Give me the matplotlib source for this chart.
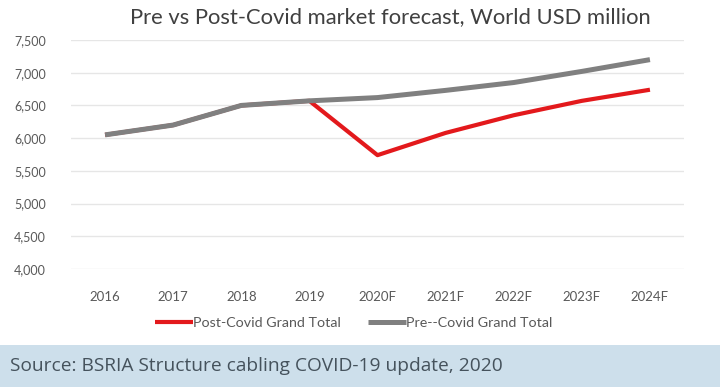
import matplotlib
matplotlib.use("Agg")
import matplotlib.pyplot as plt
from matplotlib.patches import Rectangle

categories = ["2016", "2017", "2018", "2019", "2020F", "2021F", "2022F", "2023F", "2024F"]
post_covid = [6050, 6200, 6500, 6570, 5740, 6080, 6350, 6570, 6740]
pre_covid = [6050, 6200, 6500, 6570, 6620, 6730, 6850, 7020, 7200]
yticks = [4000, 4500, 5000, 5500, 6000, 6500, 7000, 7500]

plt.rcParams['font.family'] = ['Lato', 'DejaVu Sans']

W, H = 720, 387
fig = plt.figure(figsize=(7.2, 3.87), dpi=100)
fig.patch.set_facecolor("white")

# bottom banner
fig.patches.append(Rectangle((0, 0), 1, 42 / H, transform=fig.transFigure,
                             facecolor="#cddfeb", edgecolor="none", zorder=0))
fig.text(10 / W, 21 / H, "Source: BSRIA Structure cabling COVID-19 update, 2020",
         fontsize=13.8, color="#45525c", va="center", ha="left", family=['Open Sans', 'DejaVu Sans'])

ax = fig.add_axes([71 / W, 1 - 269 / H, (684 - 71) / W, (269 - 40) / H])
x = list(range(len(categories)))
ax.plot(x, post_covid, color="#e3191c", lw=3, label="Post-Covid Grand Total", zorder=2, solid_capstyle="butt")
ax.plot(x, pre_covid, color="#808080", lw=3.6, label="Pre--Covid Grand Total", zorder=3, solid_capstyle="butt")

ax.set_xlim(-0.5, len(categories) - 0.5)
ax.set_ylim(4000, 7500)
ax.set_yticks(yticks)
ax.set_yticklabels([f"{v:,}" for v in yticks])
ax.set_xticks(x)
ax.set_xticklabels(categories)
ax.yaxis.grid(True, color="#e6e6e6", lw=1)
ax.set_axisbelow(True)
for s in ax.spines.values():
    s.set_visible(False)
ax.tick_params(axis="both", length=0, colors="#595959", labelsize=9)
ax.tick_params(axis="x", labelsize=9.5, pad=16)
ax.tick_params(axis="y", pad=18)

fig.text(390 / W, 1 - 17 / H, "Pre vs Post-Covid market forecast, World USD million",
         fontsize=15.8, color="#404040", ha="center", va="center")

leg = fig.legend(loc="center", bbox_to_anchor=(354 / W, 1 - 323 / H), ncol=2, frameon=False,
                 fontsize=10.3, handlelength=2.65, handletextpad=0.0, columnspacing=1.9)
for t in leg.get_texts():
    t.set_color("#595959")

fig.savefig("out.png", dpi=100)
